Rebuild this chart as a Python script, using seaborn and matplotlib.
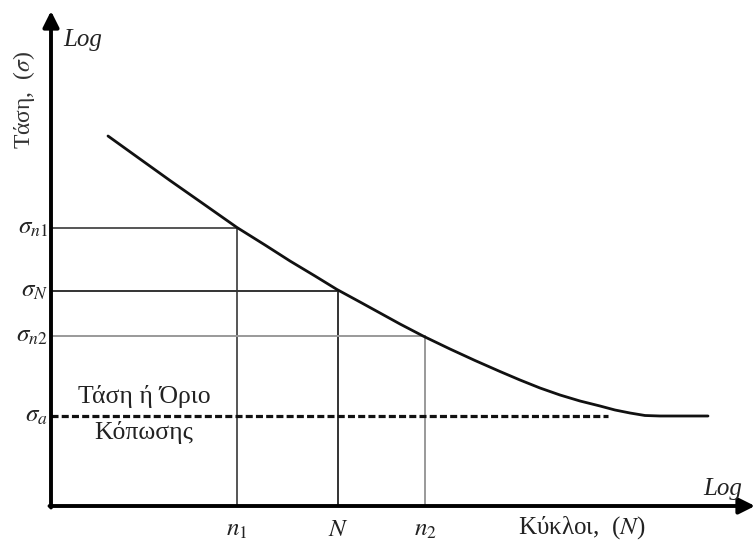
import matplotlib
matplotlib.use("Agg")
import matplotlib.pyplot as plt
import seaborn as sns
import pandas as pd

# ---- data (schematic S-N curve, read in picture coordinates) ----
curve_x = [108, 140, 170, 200, 237, 265, 290, 315, 337, 360, 380, 400, 424, 450, 475,
           500, 520, 540, 560, 580, 600, 615, 630, 645, 660, 708]
curve_y = [136, 159, 180.5, 201.5, 227.5, 245, 261, 276, 289.5, 302, 313, 324, 336.5, 349, 360.5,
           371.5, 380, 388, 395, 401, 406, 410, 413, 415.5, 416, 416]

level_names = [r'$\sigma_{\mathit{n1}}$', r'$\sigma_{N}$', r'$\sigma_{\mathit{n2}}$']
level_y = [228, 291, 336]
level_x = [237, 338, 425]
tick_names = [r'$n_1$', r'$N$', r'$n_2$']
level_colors = ['#555555', '#333333', '#999999']

endurance_y = 416
endurance_end = 608

y_label = 'Τάση,  ($\\sigma$)'
x_label = 'Κύκλοι,  ($N$)'
endurance_label = ['Τάση ή Όριο', 'Κόπωσης']
log_label = 'Log'

sns.set_theme(style='white')
plt.rcParams['font.family'] = ['Liberation Serif', 'DejaVu Serif']
plt.rcParams['mathtext.fontset'] = 'stix'

fig = plt.figure(figsize=(7.55, 5.43), dpi=100)
ax = fig.add_axes([0, 0, 1, 1])

origin_x, origin_y = 51, 506
txt = '#222222'

# guide lines
for name, yv, xv, tn, c in zip(level_names, level_y, level_x, tick_names, level_colors):
    ax.plot([origin_x, xv], [yv, yv], color=c, lw=1.4, zorder=2)
    ax.plot([xv, xv], [yv, origin_y], color=c, lw=1.4, zorder=2)
    ax.text(48, yv, name, ha='right', va='center', fontsize=18, color=txt)
    ax.text(xv, 530, tn, ha='center', va='center', fontsize=18, color=txt)

# endurance limit dashed line
ax.plot([origin_x, endurance_end], [endurance_y, endurance_y], color='#111111',
        lw=2.3, dashes=(2.2, 1.0), zorder=3)
ax.text(48, endurance_y, r'$\sigma_{a}$', ha='right', va='center', fontsize=18, color=txt)
ax.text(144, 396, endurance_label[0], ha='center', va='center', fontsize=18.5, color=txt)
ax.text(144, 432, endurance_label[1], ha='center', va='center', fontsize=18.5, color=txt)

# curve
df = pd.DataFrame({'x': curve_x, 'y': curve_y})
sns.lineplot(data=df, x='x', y='y', ax=ax, color='#111111', lw=2.0, sort=False,
             estimator=None, zorder=4)
ax.set_xlim(0, 755)
ax.set_ylim(543, 0)
ax.axis('off')

# axes with arrows
ax.annotate('', xy=(51, 11), xytext=(51, origin_y + 1.5),
            arrowprops=dict(arrowstyle='-|>', lw=2.8, color='black', mutation_scale=24,
                            shrinkA=0, shrinkB=0))
ax.annotate('', xy=(755, origin_y), xytext=(49.5, origin_y),
            arrowprops=dict(arrowstyle='-|>', lw=2.8, color='black', mutation_scale=24,
                            shrinkA=0, shrinkB=0))

ax.text(63, 40, log_label, ha='left', va='center', fontsize=18, style='italic', color=txt)
ax.text(742, 489, log_label, ha='right', va='center', fontsize=18, style='italic', color=txt)
ax.text(518, 528, x_label, ha='left', va='center', fontsize=18, color=txt)
ax.text(24, 100, y_label, ha='center', va='center', fontsize=17, rotation=90, color='#333333')

fig.savefig('out.png', dpi=100)
